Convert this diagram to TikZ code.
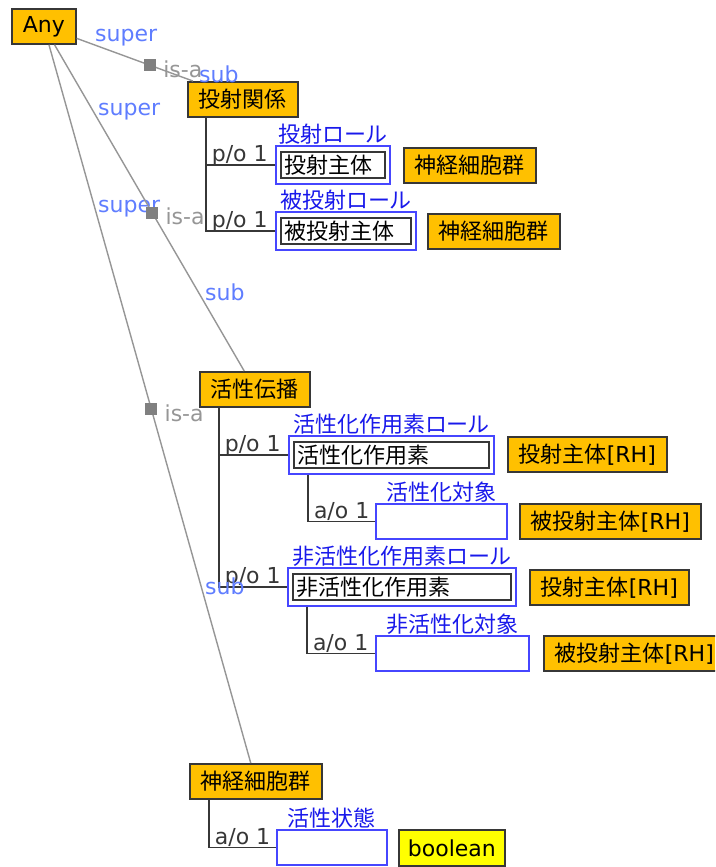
\documentclass[tikz,border=0pt]{standalone}
\usepackage{fontspec}
\setmainfont{DejaVu Sans}
\newfontfamily\jp{Noto Sans CJK JP}
\newfontfamily\jpp[RawFeature=+palt]{Noto Sans CJK JP}
\usetikzlibrary{fit}

\definecolor{clsfill}{RGB}{255,192,0}
\definecolor{boolfill}{RGB}{255,255,0}
\definecolor{rolecol}{RGB}{70,70,255}
\definecolor{roletext}{RGB}{25,25,235}
\definecolor{relcol}{RGB}{95,125,255}
\definecolor{isacol}{RGB}{150,150,150}
\definecolor{edgecol}{RGB}{55,55,55}

\newcommand{\px}{\fontsize{22pt}{26pt}\selectfont}

\begin{document}
\begin{tikzpicture}[x=1pt,y=-1pt,
    cls/.style={draw=edgecol, fill=clsfill, line width=1.7pt, anchor=north west,
      inner xsep=11pt, inner ysep=0pt, minimum height=35pt, font=\px},
    dtype/.style={cls, fill=boolfill, inner xsep=9pt, minimum height=36pt},
    slot/.style={draw=edgecol, fill=white, line width=1.7pt, anchor=north west,
      inner xsep=4pt, inner ysep=0pt, minimum height=26pt, align=left, font=\px},
    role/.style={draw=rolecol, line width=1.7pt, inner xsep=4pt, inner ysep=5pt},
    hole/.style={draw=rolecol, fill=white, line width=1.7pt, anchor=north west,
      inner sep=0pt, minimum height=35pt},
    rlab/.style={text=roletext, anchor=south, inner sep=0.5pt, font=\px\jpp},
    card/.style={text=edgecol, anchor=base west, inner sep=0pt, xshift=5pt, yshift=3pt, font=\px},
    rel/.style={text=relcol, anchor=west, inner sep=0pt, font=\px},
    isa/.style={draw=isacol, line width=1.4pt},
    part/.style={draw=edgecol, line width=1.7pt},
    hub/.style={fill=isacol!85!black, minimum size=12pt, inner sep=0pt,
      label={[text=isacol, font=\px, inner sep=0pt, xshift=6pt, yshift=-4pt]right:is-a}},
  ]
  \path[use as bounding box, fill=white] (0,0) rectangle (715,867);
  \clip (0,0) rectangle (715,867);

  % concepts
  \node[cls] (any) at (11,8) {Any};
  \node[cls] (kanren) at (187,81) {\jp 投射関係};
  \node[cls] (denpa) at (199,371) {\jp 活性伝播};
  \node[cls] (gun) at (189,763) {\jp 神経細胞群};

  % roles of 投射関係
  \node[slot, text width=96pt] (r1) at (280,151) {\jp 投射主体};
  \node[role, fit=(r1)] (r1o) {};
  \node[rlab] (r1l) at (r1o.north) {投射ロール};
  \node[cls] (t1) at (403,147) {\jp 神経細胞群};

  \node[slot, text width=122pt] (r2) at (280,217) {\jp 被投射主体};
  \node[role, fit=(r2)] (r2o) {};
  \node[rlab] (r2l) at (r2o.north) {被投射ロール};
  \node[cls] (t2) at (427,213) {\jp 神経細胞群};

  % roles of 活性伝播
  \node[slot, text width=187pt] (r3) at (293,441) {\jp 活性化作用素};
  \node[role, fit=(r3)] (r3o) {};
  \node[rlab] (r3l) at (r3o.north) {活性化作用素ロール};
  \node[cls] (t3) at (507,436) {{\jp 投射主体}[RH]};

  \node[hole, minimum width=131pt] (e1) at (375,503) {};
  \node[rlab] (e1l) at (e1.north) {活性化対象};
  \node[cls] (t4) at (519,503) {{\jp 被投射主体}[RH]};

  \node[slot, text width=210pt] (r4) at (292,573) {\jp 非活性化作用素};
  \node[role, fit=(r4)] (r4o) {};
  \node[rlab] (r4l) at (r4o.north) {非活性化作用素ロール};
  \node[cls] (t5) at (529,569) {{\jp 投射主体}[RH]};

  \node[hole, minimum width=153pt] (e2) at (375,635) {};
  \node[rlab] (e2l) at (e2.north) {非活性化対象};
  \node[cls] (t6) at (543,635) {{\jp 被投射主体}[RH]};

  % attribute of 神経細胞群
  \node[hole, minimum width=110pt] (e3) at (276,829) {};
  \node[rlab] (e3l) at (e3.north) {活性状態};
  \node[dtype] (t7) at (398,829) {boolean};

  % part-of / attribute-of links
  \draw[part] ([xshift=19pt]kanren.south west) |- node[card, pos=0.5] {p/o 1} (r1o.west);
  \draw[part] ([xshift=19pt]kanren.south west) |- node[card, pos=0.5] {p/o 1} (r2o.west);
  \draw[part] ([xshift=20pt]denpa.south west) |- node[card, pos=0.5] {p/o 1} (r3o.west);
  \draw[part] ([xshift=20pt]denpa.south west) |- node[card, pos=0.5] {p/o 1} (r4o.west);
  \draw[part] ([xshift=20pt]r3o.south west) |- node[card, pos=0.5] {a/o 1} (e1.west);
  \draw[part] ([xshift=20pt]r4o.south west) |- node[card, pos=0.5] {a/o 1} (e2.west);
  \draw[part] ([xshift=20pt]gun.south west) |- node[card, pos=0.5] {a/o 1} (e3.west);

  % is-a links
  \node[rel] (sup1) at (95,38) {super};
  \node[rel] (sub1) at (199,74) {sub};
  \node[rel] (sup2) at (98,112) {super};
  \node[rel] (sub2) at (205,292) {sub};
  \node[rel] (sup3) at (98,209) {super};
  \node[rel] (sub3) at (205,586) {sub};
  \draw[isa] (any) -- (kanren) node[hub, pos=0.63] (h1) {};
  \draw[isa] (any) -- (denpa) node[hub, pos=0.515] (h2) {};
  \draw[isa] (any) -- (gun) node[hub, pos=0.507] (h3) {};
\end{tikzpicture}
\end{document}
